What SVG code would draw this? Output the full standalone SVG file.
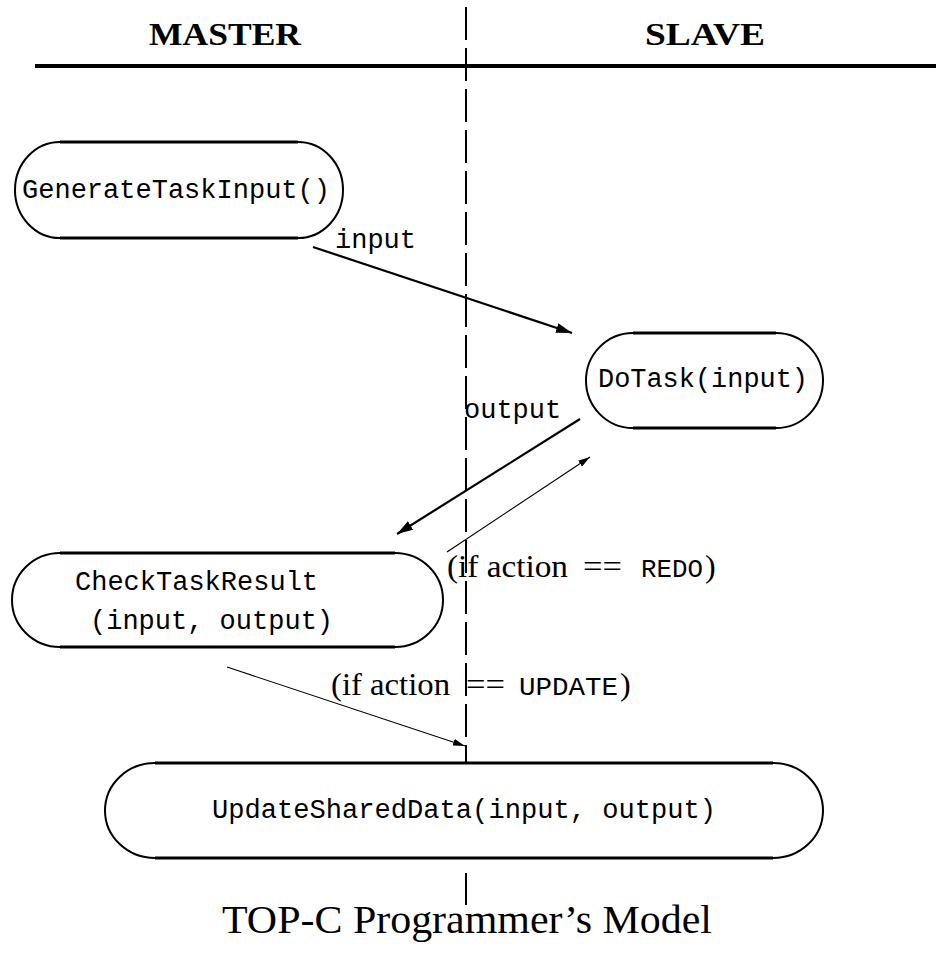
<svg xmlns="http://www.w3.org/2000/svg" width="936" height="953" viewBox="0 0 936 953">
<style>
.box{fill:#fff;stroke:#000;stroke-width:2}
.edge{stroke:#000;stroke-width:3}
.mono{font-family:"Liberation Mono","DejaVu Sans Mono",monospace;font-size:27px;fill:#000}
.lmono{font-family:"Liberation Mono","DejaVu Sans Mono",monospace;font-size:26px;fill:#000}
.serif{font-family:"Liberation Serif","DejaVu Serif",serif;font-size:32px;fill:#000}
.head{font-family:"Liberation Serif","DejaVu Serif",serif;font-size:32px;font-weight:bold;fill:#000}
.cap{font-family:"Liberation Serif","DejaVu Serif",serif;font-size:39px;fill:#000}
.thick{stroke:#000;stroke-width:2.2;fill:none}
.thin{stroke:#000;stroke-width:1.1;fill:none}
</style>
<defs>
<marker id="ah" markerUnits="userSpaceOnUse" markerWidth="17" markerHeight="11" refX="16" refY="5" orient="auto">
<path d="M0,0 L16,5 L0,10 Z" fill="#000"/>
</marker>
<marker id="ahs" markerUnits="userSpaceOnUse" markerWidth="13" markerHeight="7" refX="12" refY="3.5" orient="auto">
<path d="M0,0 L12,3.5 L0,7 Z" fill="#000"/>
</marker>
</defs>
<rect width="936" height="953" fill="#fff"/>

<g id="header">
<text class="head" x="149" y="45" textLength="152" lengthAdjust="spacingAndGlyphs">MASTER</text>
<text class="head" x="645" y="45" textLength="120" lengthAdjust="spacingAndGlyphs">SLAVE</text>
<line x1="35" y1="66" x2="936" y2="66" stroke="#000" stroke-width="4"/>
</g>

<g id="divider">
<line x1="466" y1="7" x2="466" y2="763" stroke="#000" stroke-width="2" stroke-dasharray="33 8"/>
<line x1="466" y1="873" x2="466" y2="905" stroke="#000" stroke-width="2"/>
</g>

<g id="connectors">
<line class="thick" x1="313" y1="247" x2="572" y2="333" marker-end="url(#ah)"/>
<line class="thick" x1="580" y1="419" x2="397" y2="534" stroke-width="2.8" marker-end="url(#ah)"/>
<line class="thin" x1="447" y1="552" x2="590" y2="457" marker-end="url(#ahs)"/>
<line class="thin" x1="227" y1="667" x2="465" y2="746" marker-end="url(#ahs)"/>
<text class="mono" x="335" y="248">input</text>
<text class="mono" x="464" y="418">output</text>
<g id="label-redo">
<text class="serif" x="447" y="577" textLength="121" lengthAdjust="spacingAndGlyphs">(if action</text>
<text class="serif" x="583" y="577" textLength="39" lengthAdjust="spacingAndGlyphs">==</text>
<text class="lmono" x="641" y="577" textLength="62" lengthAdjust="spacingAndGlyphs">REDO</text>
<text class="serif" x="705" y="577">)</text>
</g>
<g id="label-update">
<text class="serif" x="331" y="695" textLength="119" lengthAdjust="spacingAndGlyphs">(if action</text>
<text class="serif" x="466" y="695" textLength="39" lengthAdjust="spacingAndGlyphs">==</text>
<text class="lmono" x="519" y="695" textLength="99" lengthAdjust="spacingAndGlyphs">UPDATE</text>
<text class="serif" x="620" y="695">)</text>
</g>
</g>

<g id="GenerateTaskInput">
<path class="box" d="M60,142 H298 A45,48 0 0 1 298,238 H60 A45,48 0 0 1 60,142 Z"/>
<line class="edge" x1="60" y1="142" x2="298" y2="142"/>
<line class="edge" x1="60" y1="238" x2="298" y2="238"/>
<text class="mono" x="22" y="198" textLength="308" lengthAdjust="spacingAndGlyphs">GenerateTaskInput()</text>
</g>

<g id="DoTask">
<path class="box" d="M633,333 H776 A47,47.5 0 0 1 776,428 H633 A47,47.5 0 0 1 633,333 Z"/>
<line class="edge" x1="633" y1="333" x2="776" y2="333"/>
<line class="edge" x1="633" y1="428" x2="776" y2="428"/>
<text class="mono" x="598" y="387" textLength="210" lengthAdjust="spacingAndGlyphs">DoTask(input)</text>
</g>

<g id="CheckTaskResult">
<path class="box" d="M60,553 H395 A48,47 0 0 1 395,647 H60 A48,47 0 0 1 60,553 Z"/>
<line class="edge" x1="60" y1="553" x2="395" y2="553"/>
<line class="edge" x1="60" y1="647" x2="395" y2="647"/>
<text class="mono" x="75" y="590">CheckTaskResult</text>
<text class="mono" x="90" y="629">(input, output)</text>
</g>

<g id="UpdateSharedData">
<path class="box" d="M155,763 H773 A50,47.5 0 0 1 773,858 H155 A50,47.5 0 0 1 155,763 Z"/>
<line class="edge" x1="155" y1="763" x2="773" y2="763"/>
<line class="edge" x1="155" y1="858" x2="773" y2="858"/>
<text class="mono" x="212" y="818" textLength="504" lengthAdjust="spacingAndGlyphs">UpdateSharedData(input, output)</text>
</g>

<g id="caption">
<text class="cap" x="222" y="933" textLength="490" lengthAdjust="spacingAndGlyphs">TOP-C Programmer’s Model</text>
</g>
</svg>
